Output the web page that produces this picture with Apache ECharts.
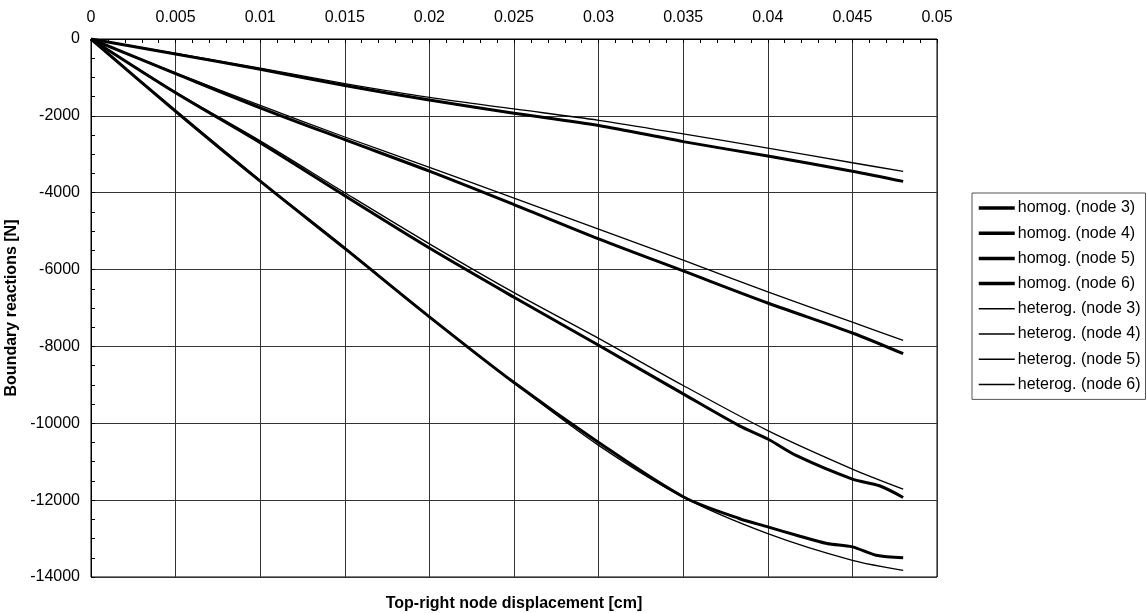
<!DOCTYPE html>
<html><head><meta charset="utf-8">
<script src="https://cdn.jsdelivr.net/npm/echarts@6/dist/echarts.min.js"></script>
<style>html,body{margin:0;padding:0;background:#fff}#c{width:1147px;height:613px}</style>
</head><body><div id="c"></div>
<script>
// x values (cm)
const xLin = [0, 0.005, 0.01, 0.015, 0.02, 0.025, 0.03, 0.035, 0.04, 0.045, 0.048];
const xHomog5 = [0, 0.005, 0.01, 0.015, 0.02, 0.025, 0.03, 0.035, 0.0383, 0.04, 0.0417, 0.045, 0.0466, 0.048];
const xHomog6 = [0, 0.005, 0.01, 0.015, 0.02, 0.025, 0.03, 0.035, 0.0383, 0.04, 0.0417, 0.0435, 0.045, 0.0464, 0.048];

// boundary reactions (N)
const homog3 = [0, -390, -790, -1210, -1590, -1930, -2250, -2670, -3045, -3440, -3705];
const homog4 = [0, -900, -1790, -2620, -3440, -4310, -5200, -6035, -6870, -7650, -8190];
const homog5 = [0, -1400, -2700, -4080, -5440, -6720, -7970, -9235, -10060, -10410, -10843, -11452, -11626, -11930];
const homog6 = [0, -1880, -3700, -5450, -7230, -8940, -10500, -11913, -12478, -12696, -12913, -13130, -13217, -13435, -13496];
const heterog3 = [0, -375, -760, -1160, -1520, -1820, -2115, -2470, -2840, -3220, -3445];
const heterog4 = [0, -880, -1730, -2550, -3340, -4140, -4950, -5757, -6583, -7370, -7843];
const heterog5 = [0, -1380, -2650, -4000, -5330, -6600, -7790, -9017, -10190, -11191, -11713];
const heterog6 = [0, -1870, -3680, -5430, -7230, -8950, -10575, -11920, -12870, -13565, -13826];

const names = ['homog. (node 3)','homog. (node 4)','homog. (node 5)','homog. (node 6)',
  'heterog. (node 3)','heterog. (node 4)','heterog. (node 5)','heterog. (node 6)'];
const xTicks = [0, 0.005, 0.01, 0.015, 0.02, 0.025, 0.03, 0.035, 0.04, 0.045, 0.05];

function pairs(xs, ys){ return xs.map((x,i)=>[x, ys[i]]); }
const seriesData = [
  [xLin, homog3], [xLin, homog4], [xHomog5, homog5], [xHomog6, homog6],
  [xLin, heterog3], [xLin, heterog4], [xLin, heterog5], [xLin, heterog6]
];

const font = 'Liberation Sans, Arial, sans-serif';
const chart = echarts.init(document.getElementById('c'));
chart.setOption({
  animation: false,
  backgroundColor: '#fff',
  textStyle: {fontFamily: font, color: '#000'},
  title: {
    text: 'Top-right node displacement [cm]',
    left: 514, top: 596, textAlign: 'center', padding: 0,
    textStyle: {fontFamily: font, fontSize: 16, fontWeight: 'bold', color: '#000'}
  },
  grid: {left: 91, right: 210, top: 39, bottom: 36, containLabel: false, outerBoundsMode: 'none',
    show: true, borderColor: '#000', borderWidth: 1},
  legend: {
    orient: 'vertical', left: 972, top: 193,
    padding: [7, 5, 7, 5],
    borderColor: '#555', borderWidth: 1,
    itemWidth: 36, itemHeight: 14, itemGap: 9.2,
    itemStyle: {opacity: 0},
    textStyle: {fontFamily: font, fontSize: 16, color: '#000', padding: [0, 0, 0, -2]},
    data: names.map((n, i) => ({name: n, lineStyle: {width: i < 4 ? 3.5 : 1.5, color: '#000'}}))
  },
  xAxis: {
    type: 'value', position: 'top', min: 0, max: 0.05, interval: 0.005,
    axisLine: {show: true, lineStyle: {color: '#000'}},
    axisTick: {show: true, inside: true, length: 4, lineStyle: {color: '#000'}},
    minorTick: {show: true, splitNumber: 5, length: 4, lineStyle: {color: '#000'}},
    splitLine: {show: true, lineStyle: {color: '#333', width: 1}},
    axisLabel: {fontFamily: font, fontSize: 16, color: '#000', margin: 13,
      formatter: v => { const t = xTicks.find(k => Math.abs(k - v) < 1e-9); return String(t !== undefined ? t : v); }}
  },
  yAxis: {
    type: 'value', min: -14000, max: 0, interval: 2000,
    name: 'Boundary reactions [N]', nameLocation: 'middle', nameGap: 63,
    nameTextStyle: {fontFamily: font, fontSize: 16, fontWeight: 'bold', color: '#000'},
    axisLine: {show: true, lineStyle: {color: '#000'}},
    axisTick: {show: true, inside: true, length: 4, lineStyle: {color: '#000'}},
    minorTick: {show: true, splitNumber: 4, length: 4, lineStyle: {color: '#000'}},
    splitLine: {show: true, lineStyle: {color: '#333', width: 1}},
    axisLabel: {fontFamily: font, fontSize: 16, color: '#000', margin: 11, formatter: v => String(v)}
  },
  series: seriesData.map((d, i) => ({
    name: names[i], type: 'line', data: pairs(d[0], d[1]),
    showSymbol: false, symbol: 'none', smooth: 0.3,
    color: '#000',
    lineStyle: {color: '#000', width: i < 4 ? 3 : 1.3},
    z: i < 4 ? 3 : 4
  }))
});
</script></body></html>
